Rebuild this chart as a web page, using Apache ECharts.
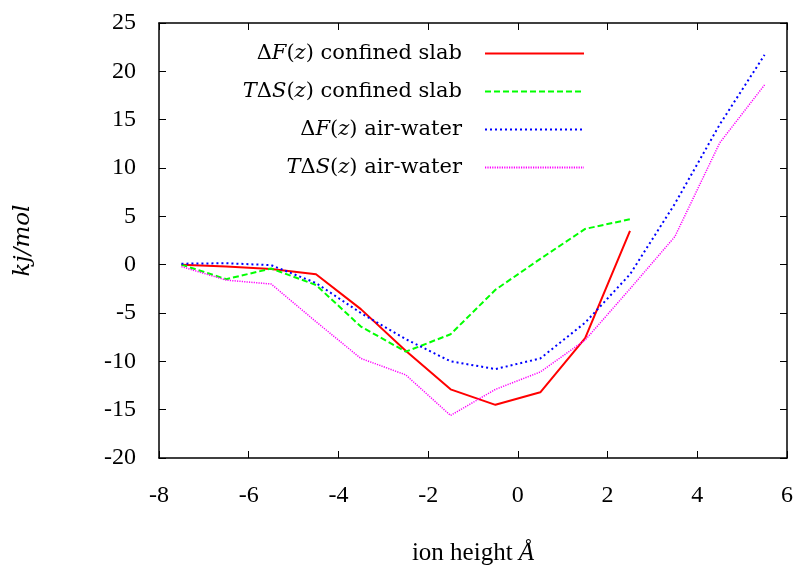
<!DOCTYPE html>
<html>
<head>
<meta charset="utf-8">
<script src="https://cdn.jsdelivr.net/npm/echarts@6/dist/echarts.min.js"></script>
<style>
html,body{margin:0;padding:0;background:#fff;}
#c{width:799px;height:565px;}
</style>
</head>
<body>
<div id="c"></div>
<script>
// ion height positions (Å)
var xVals = [-7.5, -6.5, -5.5, -4.5, -3.5, -2.5, -1.5, -0.5, 0.5, 1.5, 2.5, 3.5, 4.5, 5.5];
// ΔF(z) confined slab
var dFconf = [0, -0.2, -0.45, -1.0, -4.6, -8.9, -12.9, -14.5, -13.2, -7.6, 3.5];
// TΔS(z) confined slab
var tdSconf = [0, -1.5, -0.4, -2.1, -6.4, -9.0, -7.2, -2.6, 0.6, 3.7, 4.7];
// ΔF(z) air-water
var dFair = [0.1, 0.15, -0.05, -1.9, -5.0, -7.7, -10.0, -10.8, -9.7, -6.0, -1.0, 6.3, 14.5, 21.7];
// TΔS(z) air-water
var tdSair = [-0.2, -1.6, -2.0, -5.9, -9.7, -11.4, -15.6, -12.9, -11.1, -7.8, -2.5, 2.9, 12.6, 18.6];

var seriesNames = ['dFconf', 'tdSconf', 'dFair', 'tdSair'];
var legendLabels = {
  dFconf: '{u|Δ}{i|F}{u|(}{i|z}{u|) confined slab}',
  tdSconf: '{i|T}{u|Δ}{i|S}{u|(}{i|z}{u|) confined slab}',
  dFair: '{u|Δ}{i|F}{u|(}{i|z}{u|) air-water}',
  tdSair: '{i|T}{u|Δ}{i|S}{u|(}{i|z}{u|) air-water}'
};

function pairs(ys) {
  return ys.map(function (y, i) { return [xVals[i], y]; });
}

var LFONT = 'DejaVu Serif';
var TFONT = 'Liberation Serif';
var chart = echarts.init(document.getElementById('c'), null, {renderer: 'canvas'});

var axisCommon = {
  type: 'value',
  axisLine: {show: true, onZero: false, lineStyle: {color: '#000', width: 1.5}},
  axisTick: {show: true, inside: true, length: 7, lineStyle: {color: '#000', width: 1}},
  splitLine: {show: false}
};

chart.setOption({
  animation: false,
  backgroundColor: '#fff',
  grid: {left: 159, right: 12, top: 23, bottom: 107, containLabel: false, outerBoundsMode: 'none'},
  legend: {
    data: seriesNames,
    orient: 'vertical',
    align: 'right',
    right: 214,
    top: 43,
    padding: 0,
    itemWidth: 99,
    itemHeight: 24,
    itemGap: 17,
    selectedMode: false,
    itemStyle: {opacity: 0},
    formatter: function (name) { return legendLabels[name]; },
    textStyle: {
      padding: [0, 18, 0, 0],
      color: '#000',
      rich: {
        u: {fontFamily: LFONT, fontSize: 21, color: '#000', lineHeight: 24},
        i: {fontFamily: LFONT, fontSize: 21, fontStyle: 'italic', color: '#000', lineHeight: 24}
      }
    }
  },
  xAxis: [
    Object.assign({}, axisCommon, {
      position: 'bottom', min: -8, max: 6, interval: 2,
      axisLabel: {show: true, margin: 26, color: '#000', fontFamily: TFONT, fontSize: 24},
      name: '{u|ion height }{i|Å}',
      nameLocation: 'middle',
      nameGap: 83,
      nameTextStyle: {
        rich: {
          u: {fontFamily: TFONT, fontSize: 25, color: '#000'},
          i: {fontFamily: TFONT, fontSize: 25, fontStyle: 'italic', color: '#000'}
        }
      }
    }),
    Object.assign({}, axisCommon, {
      position: 'top', min: -8, max: 6, interval: 2,
      axisLabel: {show: false}
    })
  ],
  yAxis: [
    Object.assign({}, axisCommon, {
      position: 'left', min: -20, max: 25, interval: 5,
      axisLabel: {show: true, margin: 23, color: '#000', fontFamily: TFONT, fontSize: 24},
      name: 'kj/mol',
      nameLocation: 'middle',
      nameRotate: 90,
      nameGap: 124,
      nameTextStyle: {fontFamily: LFONT, fontSize: 23, fontStyle: 'italic', color: '#000'}
    }),
    Object.assign({}, axisCommon, {
      position: 'right', min: -20, max: 25, interval: 5,
      axisLabel: {show: false}
    })
  ],
  series: [
    {
      name: 'dFconf', type: 'line', symbol: 'none', data: pairs(dFconf),
      lineStyle: {color: '#ff0000', width: 2, type: 'solid'},
      itemStyle: {color: '#ff0000'}
    },
    {
      name: 'tdSconf', type: 'line', symbol: 'none', data: pairs(tdSconf),
      lineStyle: {color: '#00ff00', width: 2, type: [6, 3]},
      itemStyle: {color: '#00ff00'}
    },
    {
      name: 'dFair', type: 'line', symbol: 'none', data: pairs(dFair),
      lineStyle: {color: '#0000ff', width: 2, type: [2, 3]},
      itemStyle: {color: '#0000ff'}
    },
    {
      name: 'tdSair', type: 'line', symbol: 'none', data: pairs(tdSair),
      lineStyle: {color: '#ff00ff', width: 1.5, type: [1.2, 1.2]},
      itemStyle: {color: '#ff00ff'}
    }
  ]
});
</script>
</body>
</html>
